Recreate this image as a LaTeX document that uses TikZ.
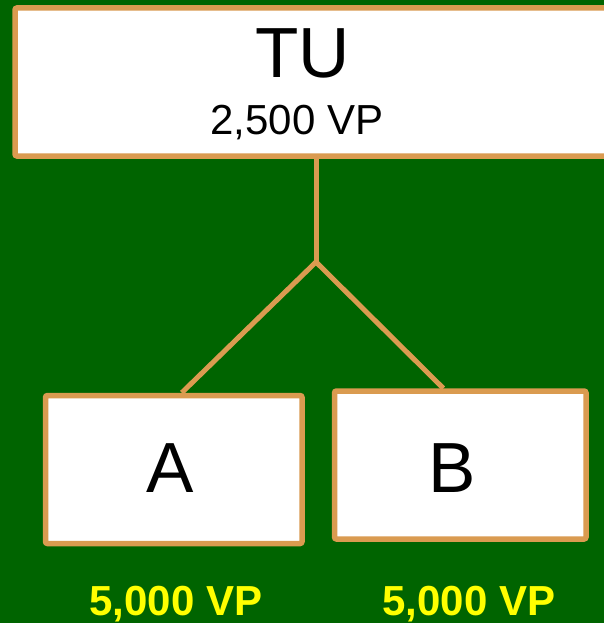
\documentclass[tikz,border=0pt]{standalone}
\usepackage{fontspec}
\setmainfont{Liberation Sans}
\usetikzlibrary{positioning}
\definecolor{fieldgreen}{RGB}{0,100,0}
\definecolor{rim}{RGB}{218,155,80}
\definecolor{vpyellow}{RGB}{255,255,0}
\tikzstyle{unitbox} = [rectangle, fill=white, draw=rim, line width=5.5pt,
rounded corners=2pt, inner sep=0pt]
\tikzstyle{bigname} = [anchor=base, inner sep=0pt, font=\fontsize{71}{71}\selectfont]
\tikzstyle{points} = [anchor=base, inner sep=0pt, font=\fontsize{42}{42}\selectfont]
\tikzstyle{gain} = [anchor=base, inner sep=0pt, text=vpyellow,
font=\bfseries\fontsize{42}{42}\selectfont]
\tikzstyle{link} = [draw=rim, line width=5pt]

\begin{document}
\begin{tikzpicture}[x=1pt, y=-1pt]
  \fill[fieldgreen] (0,0) rectangle (604,623);
  \useasboundingbox (0,0) rectangle (604,623);

  % boxes
  \node[unitbox, minimum width=605pt, minimum height=148pt] (tu) at (317.5,82) {};
  \node[unitbox, minimum width=256.5pt, minimum height=148pt] (a) at (173.75,469.5) {};
  \node[unitbox, minimum width=251.5pt, minimum height=148pt] (b) at (460.25,465) {};

  % tree
  \coordinate (split) at (316,262);
  \draw[link] (split |- tu.south) -- (split);
  \draw[link] (split) -- ([xshift=8pt]a.north);
  \draw[link] (split) -- ([xshift=-17pt]b.north);

  % labels
  \node[bigname] (tuname) at (302.5,78) {TU};
  \node[points] (tupts) at (297,135) {2,500 VP};
  \node[bigname] (aname) at (170,492) {A};
  \node[bigname] (bname) at (452,492) {B};
  \node[gain] (apts) at (176,615) {5,000 VP};
  \node[gain] (bpts) at (469,615) {5,000 VP};
\end{tikzpicture}
\end{document}
